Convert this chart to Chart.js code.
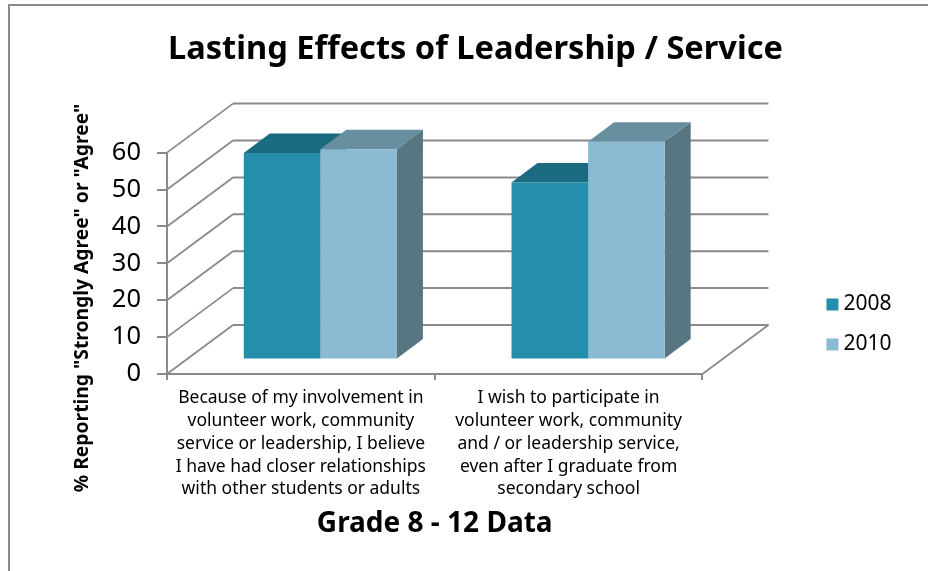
<!DOCTYPE html>
<html>
<head>
<meta charset="utf-8">
<script src="https://cdn.jsdelivr.net/npm/chart.js@4"></script>
<style>
  html, body { margin: 0; padding: 0; background: #fff; }
  #box { width: 928px; height: 571px; }
</style>
</head>
<body>
<div id="box"><canvas id="chart"></canvas></div>
<script>
const categories = [
    ['Because of my involvement in', 'volunteer work, community', 'service or leadership, I believe', 'I have had closer relationships', 'with other students or adults'],
    ['I wish to participate in', 'volunteer work, community', 'and / or leadership service,', 'even after I graduate from', 'secondary school']
];
const values2008 = [56, 48];
const values2010 = [57, 59];
const yTicks = [0, 10, 20, 30, 40, 50, 60];
const titleText = 'Lasting Effects of Leadership / Service';
const xTitle = 'Grade 8 - 12 Data';
const yTitle = '% Reporting "Strongly Agree" or "Agree"';

const fontName = '"Noto Sans", sans-serif';
const gridColor = '#8a8a8a';
const wall = { dx: 66, dy: -49 };
const barShift = { dx: 19.5, dy: -14.5 };
const barDepth = { dx: 26, dy: -19.5 };
const faces = [
    { top: '#1b6b80', side: '#1b6b80' },
    { top: '#678f9f', side: '#587682' }
];

// the back walls and the floor, behind the bars
const wallPlugin = {
    id: 'wallPlugin',
    afterLayout(chart) {
        chart.legend.left += 110.5;
        chart.legend.right += 110.5;
        chart.legend.top -= 197;
        chart.legend.bottom -= 197;
        chart.titleBlock.left += 80;
        chart.titleBlock.right += 80;
    },
    beforeDraw(chart) {
        const ctx = chart.ctx;
        ctx.save();
        ctx.strokeStyle = gridColor;
        ctx.lineWidth = 2;
        ctx.beginPath();
        ctx.moveTo(9, 571);
        ctx.lineTo(9, 5);
        ctx.lineTo(928, 5);
        ctx.stroke();
        ctx.restore();
    },
    beforeDatasetsDraw(chart) {
        const ctx = chart.ctx;
        const { left, right } = chart.chartArea;
        const y = chart.scales.y;
        ctx.save();
        ctx.strokeStyle = gridColor;
        yTicks.forEach(v => {
            const py = y.getPixelForValue(v);
            ctx.lineWidth = 1.8;
            ctx.beginPath();
            ctx.moveTo(left, py);
            ctx.lineTo(left + wall.dx, py + wall.dy);
            ctx.stroke();
            ctx.lineWidth = 2;
            ctx.beginPath();
            ctx.moveTo(left + wall.dx, py + wall.dy);
            ctx.lineTo(right + wall.dx, py + wall.dy);
            ctx.stroke();
        });
        const py0 = y.getPixelForValue(0);
        ctx.lineWidth = 1.8;
        ctx.beginPath();
        ctx.moveTo(right, py0);
        ctx.lineTo(right + wall.dx, py0 + wall.dy);
        ctx.stroke();
        ctx.restore();

        // bars sit part way back on the floor, drawn first series first
        // so the later one covers the earlier one's top and side
        chart.data.datasets.forEach((ds, i) => {
            const meta = chart.getDatasetMeta(i);
            ctx.save();
            ctx.translate(barShift.dx, barShift.dy);
            meta.data.forEach(bar => {
                const l = bar.x - bar.width / 2;
                const r = bar.x + bar.width / 2;
                ctx.fillStyle = faces[i].top;
                ctx.beginPath();
                ctx.moveTo(l, bar.y);
                ctx.lineTo(l + barDepth.dx, bar.y + barDepth.dy);
                ctx.lineTo(r + barDepth.dx, bar.y + barDepth.dy);
                ctx.lineTo(r, bar.y);
                ctx.fill();
                ctx.fillStyle = faces[i].side;
                ctx.beginPath();
                ctx.moveTo(r, bar.y);
                ctx.lineTo(r + barDepth.dx, bar.y + barDepth.dy);
                ctx.lineTo(r + barDepth.dx, bar.base + barDepth.dy);
                ctx.lineTo(r, bar.base);
                ctx.fill();
            });
            meta.controller.draw();
            ctx.restore();
        });
        return false;
    },
    afterDraw(chart) {
        const ctx = chart.ctx;
        ctx.save();
        ctx.translate(83, 298);
        ctx.rotate(-Math.PI / 2);
        ctx.font = 'bold 19.3px ' + fontName;
        ctx.fillStyle = '#000';
        ctx.textAlign = 'center';
        ctx.textBaseline = 'middle';
        ctx.fillText(yTitle, 0, 0);
        ctx.restore();
    }
};

new Chart(document.getElementById('chart'), {
    type: 'bar',
    data: {
        labels: categories,
        datasets: [
            { label: '2008', data: values2008, backgroundColor: '#268ead' },
            { label: '2010', data: values2010, backgroundColor: '#8abbd2' }
        ]
    },
    options: {
        responsive: true,
        maintainAspectRatio: false,
        animation: false,
        categoryPercentage: 0.572,
        barPercentage: 1,
        layout: { padding: { left: 0, top: 0, bottom: 0, right: 137 } },
        plugins: {
            title: {
                display: true,
                text: titleText,
                color: '#000',
                font: { family: fontName, size: 32.6, weight: 'bold' },
                padding: { top: 30, bottom: 83.5 }
            },
            legend: {
                display: true,
                position: 'right',
                align: 'end',
                labels: {
                    color: '#000',
                    usePointStyle: true,
                    pointStyle: 'rect',
                    boxWidth: 1,
                    boxHeight: 12,
                    padding: 19,
                    font: { family: fontName, size: 21 }
                }
            },
            tooltip: { enabled: false }
        },
        scales: {
            x: {
                afterFit(scale) { scale.height = 197; },
                grid: { drawOnChartArea: false, color: gridColor, tickLength: 6, lineWidth: 2 },
                border: { color: gridColor, width: 2 },
                ticks: {
                    color: '#000',
                    autoSkip: false,
                    maxRotation: 0,
                    padding: 7,
                    font: { family: fontName, size: 17.5, lineHeight: 1.3 }
                },
                title: {
                    display: true,
                    text: xTitle,
                    color: '#000',
                    font: { family: fontName, size: 28, weight: 'bold' },
                    padding: { top: 0, bottom: 30 }
                }
            },
            y: {
                min: 0,
                max: 60,
                afterFit(scale) { scale.width = 167; },
                grid: { drawOnChartArea: false, color: gridColor, tickLength: 10, lineWidth: 2 },
                border: { color: gridColor, width: 2 },
                ticks: {
                    color: '#000',
                    stepSize: 10,
                    padding: 16,
                    font: { family: fontName, size: 25.5 }
                }
            }
        }
    },
    plugins: [wallPlugin]
});
</script>
</body>
</html>
